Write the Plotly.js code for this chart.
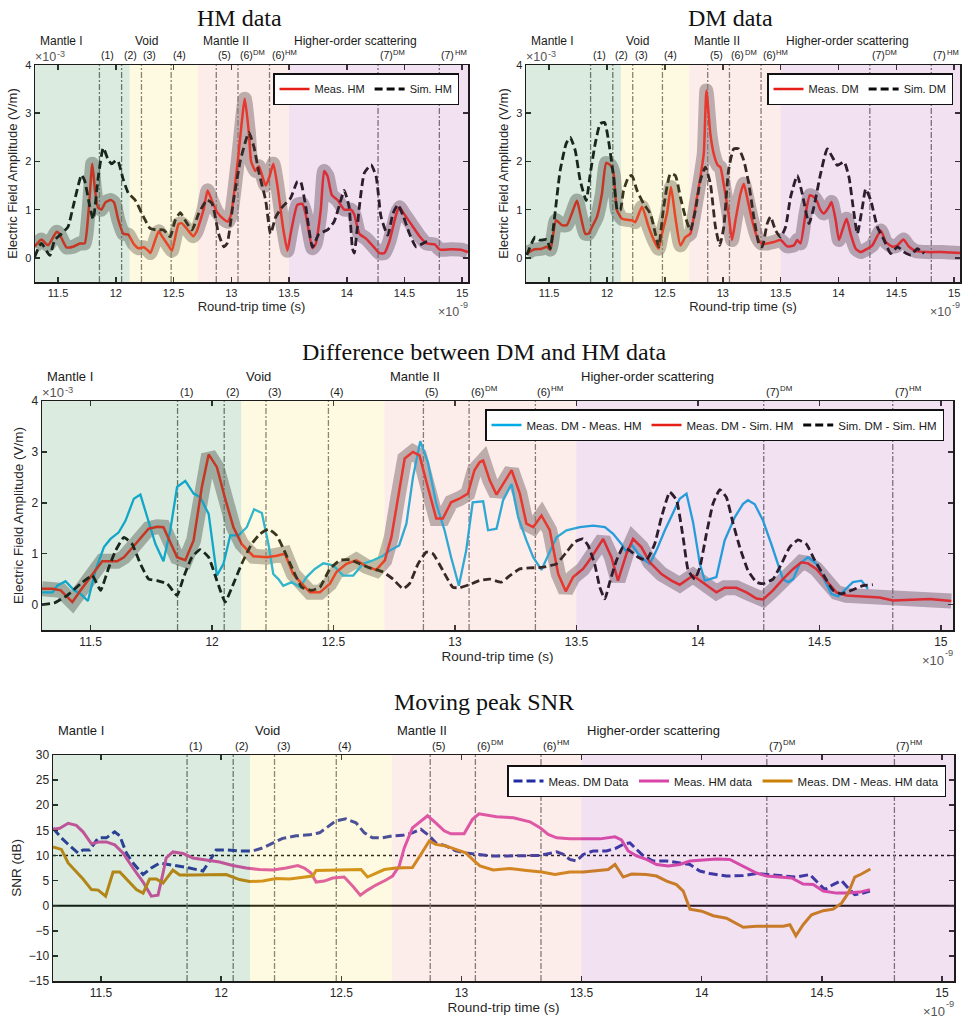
<!DOCTYPE html>
<html><head><meta charset="utf-8">
<script src="https://cdn.plot.ly/plotly-3.0.1.min.js"></script>
<style>html,body{margin:0;padding:0;background:#fff}#chart{width:965px;height:1021px}</style>
</head><body><div id="chart"></div>
<script>
// ---------------- DATA ----------------
const xTickVals = [11.5, 12, 12.5, 13, 13.5, 14, 14.5, 15];
const xTickText = ['11.5', '12', '12.5', '13', '13.5', '14', '14.5', '15'];
const ampTicks = [0, 1, 2, 3, 4];
const snrTicks = [30, 25, 20, 15, 10, 5, 0, -5, -10, -15];

const regionNames = ['Mantle I', 'Void', 'Mantle II', 'Higher-order scattering'];
const regionStart = [11.3, 12.12, 12.71, 13.5];
const regionEnd = [12.12, 12.71, 13.5, 15.05];

const eventLabels = ['(1)', '(2)', '(3)', '(4)', '(5)', '(6)', '(6)', '(7)', '(7)'];
const eventSups = ['', '', '', '', '', 'DM', 'HM', 'DM', 'HM'];
const eventTimes = [11.858, 12.05, 12.222, 12.479, 12.87, 13.058, 13.331, 14.271, 14.802];

// HM data (x1e-9 s, x1e-3 V/m)
const hmMeas = [[11.297,0.23],[11.355,0.38],[11.413,0.26],[11.486,0.54],[11.51,0.5],[11.572,0.22],[11.63,0.23],[11.688,0.3],[11.73,0.3],[11.765,1.0],[11.796,1.95],[11.82,1.4],[11.845,1.05],[11.875,1.0],[11.91,1.15],[11.955,1.2],[11.985,1.15],[12.02,0.8],[12.065,0.5],[12.109,0.48],[12.152,0.3],[12.196,0.2],[12.24,0.22],[12.28,0.15],[12.30,0.1],[12.37,0.55],[12.40,0.45],[12.47,0.2],[12.486,0.15],[12.543,0.7],[12.57,0.72],[12.616,0.6],[12.67,0.45],[12.70,0.55],[12.76,1.0],[12.795,1.4],[12.83,1.2],[12.877,0.95],[12.935,0.8],[12.97,0.75],[12.998,0.9],[13.056,2.0],[13.117,3.3],[13.152,2.6],[13.172,2.0],[13.21,1.8],[13.239,1.9],[13.297,1.5],[13.326,1.65],[13.364,1.95],[13.399,1.5],[13.45,0.6],[13.486,0.15],[13.514,0.5],[13.572,1.1],[13.616,1.12],[13.645,0.9],[13.703,0.2],[13.732,0.3],[13.775,1.0],[13.804,1.8],[13.833,1.7],[13.871,1.3],[13.92,1.2],[13.978,1.0],[14.036,1.0],[14.065,0.9],[14.109,0.5],[14.167,0.4],[14.225,0.25],[14.283,0.1],[14.326,0.1],[14.37,0.35],[14.428,0.9],[14.457,1.05],[14.5,0.9],[14.558,0.7],[14.63,0.45],[14.69,0.3],[14.762,0.28],[14.806,0.17],[14.905,0.18],[14.99,0.17],[15.05,0.12]];
const hmSim = [[11.297,0.02],[11.355,0.3],[11.428,0.05],[11.47,0.37],[11.53,0.5],[11.587,0.65],[11.63,1.06],[11.703,1.72],[11.73,1.6],[11.775,1.06],[11.804,0.8],[11.848,1.68],[11.891,2.28],[11.935,2.03],[11.965,1.95],[12.0,2.02],[12.02,2.0],[12.065,1.62],[12.109,1.34],[12.167,1.2],[12.24,0.85],[12.297,0.61],[12.355,0.58],[12.413,0.58],[12.47,0.44],[12.514,0.78],[12.558,0.94],[12.6,0.78],[12.66,0.58],[12.717,0.92],[12.79,1.2],[12.833,1.13],[12.89,0.5],[12.935,0.23],[12.964,0.3],[13.02,1.2],[13.08,2.03],[13.152,2.6],[13.196,2.3],[13.24,1.76],[13.297,1.2],[13.34,0.5],[13.385,0.85],[13.443,1.06],[13.514,1.24],[13.572,1.58],[13.6,1.58],[13.645,1.06],[13.703,0.23],[13.76,0.5],[13.833,0.58],[13.89,0.75],[13.949,1.2],[13.978,1.4],[14.02,1.06],[14.05,0.19],[14.065,0.1],[14.109,1.06],[14.152,1.76],[14.21,1.93],[14.254,1.69],[14.297,0.85],[14.355,0.47],[14.4,0.92],[14.442,1.1],[14.486,0.89],[14.543,0.5],[14.601,0.23],[14.659,0.3],[14.717,0.37]];

// DM data
const dmMeas = [[11.307,0.09],[11.364,0.17],[11.437,0.19],[11.48,0.23],[11.509,0.17],[11.523,0.3],[11.56,0.78],[11.61,0.68],[11.653,0.68],[11.696,0.92],[11.74,1.19],[11.768,0.92],[11.812,0.5],[11.84,0.5],[11.87,0.64],[11.913,0.85],[11.956,1.33],[11.993,1.97],[12.03,1.92],[12.057,1.74],[12.086,0.99],[12.129,0.81],[12.172,0.79],[12.215,0.78],[12.244,0.74],[12.302,1.06],[12.36,0.64],[12.418,0.3],[12.446,0.19],[12.475,0.5],[12.518,0.92],[12.553,1.47],[12.59,0.85],[12.634,0.26],[12.677,0.43],[12.72,0.5],[12.764,1.06],[12.807,1.68],[12.836,2.16],[12.859,3.47],[12.893,2.57],[12.922,2.16],[12.957,1.92],[12.98,1.88],[13.017,1.4],[13.05,0.92],[13.08,0.37],[13.11,0.78],[13.153,1.33],[13.182,1.54],[13.21,1.26],[13.254,0.78],[13.297,0.43],[13.335,0.3],[13.384,0.3],[13.442,0.33],[13.5,0.37],[13.557,0.24],[13.615,0.26],[13.644,0.37],[13.672,0.3],[13.716,0.92],[13.753,1.3],[13.788,1.26],[13.817,1.16],[13.845,0.99],[13.874,0.92],[13.918,1.06],[13.94,1.16],[13.976,0.78],[14.004,0.37],[14.033,0.57],[14.07,0.81],[14.105,0.5],[14.149,0.19],[14.192,0.12],[14.25,0.19],[14.293,0.26],[14.365,0.57],[14.409,0.33],[14.467,0.23],[14.51,0.26],[14.561,0.38],[14.61,0.23],[14.668,0.14],[14.769,0.12],[14.884,0.12],[14.97,0.11],[15.05,0.1]];
const dmSim = [[11.307,0.06],[11.379,0.43],[11.42,0.37],[11.48,0.38],[11.509,0.19],[11.537,0.64],[11.595,1.81],[11.647,2.37],[11.682,2.5],[11.725,2.23],[11.768,1.61],[11.82,1.19],[11.855,1.74],[11.898,2.37],[11.941,2.78],[11.979,2.81],[12.013,2.43],[12.057,1.68],[12.09,0.99],[12.115,0.99],[12.143,1.4],[12.187,1.68],[12.215,1.71],[12.259,1.4],[12.317,1.12],[12.374,0.92],[12.418,0.5],[12.446,0.23],[12.49,1.06],[12.547,1.74],[12.59,1.71],[12.634,1.26],[12.677,0.85],[12.72,0.57],[12.764,0.99],[12.807,1.61],[12.85,1.88],[12.893,1.54],[12.937,0.64],[12.974,0.26],[13.009,0.64],[13.05,1.81],[13.095,2.26],[13.139,2.26],[13.182,2.02],[13.225,1.54],[13.268,0.85],[13.312,0.3],[13.341,0.23],[13.384,0.71],[13.413,0.85],[13.456,0.57],[13.5,0.43],[13.543,0.64],[13.586,1.26],[13.644,1.71],[13.687,1.33],[13.745,0.71],[13.788,1.06],[13.845,1.74],[13.903,2.26],[13.947,2.09],[13.99,1.92],[14.048,1.99],[14.09,1.68],[14.134,0.92],[14.163,0.5],[14.207,1.06],[14.235,1.43],[14.279,1.19],[14.336,0.64],[14.394,0.37],[14.452,0.09],[14.51,0.23],[14.567,0.12],[14.625,0.06],[14.682,0.19],[14.74,0.09]];

// Difference between DM and HM data
const diffMeasMeas = [[11.30,0.24],[11.343,0.24],[11.363,0.37],[11.397,0.46],[11.432,0.28],[11.459,0.21],[11.489,0.07],[11.52,0.67],[11.555,1.13],[11.582,1.29],[11.616,1.42],[11.644,1.65],[11.678,2.08],[11.705,2.16],[11.733,1.72],[11.767,1.19],[11.80,0.85],[11.828,1.46],[11.856,2.31],[11.89,2.43],[11.924,2.18],[11.951,2.11],[11.986,1.78],[12.02,0.57],[12.047,0.8],[12.075,1.36],[12.109,1.36],[12.143,1.52],[12.173,1.87],[12.205,1.8],[12.232,1.19],[12.252,0.6],[12.273,0.5],[12.293,0.37],[12.328,0.44],[12.362,0.34],[12.389,0.54],[12.423,0.7],[12.458,0.81],[12.499,0.77],[12.54,0.57],[12.581,0.57],[12.622,0.8],[12.663,0.87],[12.704,0.96],[12.731,1.06],[12.77,1.16],[12.80,1.59],[12.827,2.5],[12.857,3.21],[12.888,2.8],[12.923,1.98],[12.957,1.46],[12.984,0.93],[13.016,0.37],[13.046,1.06],[13.073,2.01],[13.1,2.03],[13.116,2.03],[13.136,1.46],[13.171,1.49],[13.198,2.05],[13.233,2.37],[13.26,1.72],[13.294,1.26],[13.322,0.93],[13.356,0.68],[13.377,0.9],[13.418,1.32],[13.459,1.46],[13.514,1.52],[13.569,1.55],[13.617,1.52],[13.651,1.39],[13.685,1.19],[13.706,1.03],[13.726,1.19],[13.754,1.0],[13.781,0.87],[13.802,0.8],[13.829,1.06],[13.864,1.46],[13.898,1.82],[13.925,2.08],[13.953,2.18],[13.98,1.62],[14.008,0.8],[14.028,0.47],[14.049,0.5],[14.076,0.54],[14.11,1.26],[14.152,1.72],[14.186,1.98],[14.206,2.05],[14.234,1.97],[14.268,1.65],[14.302,1.19],[14.33,0.8],[14.35,0.5],[14.371,0.44],[14.392,0.5],[14.419,0.8],[14.453,0.93],[14.488,0.8],[14.515,0.54],[14.549,0.21],[14.577,0.16],[14.604,0.28],[14.638,0.44],[14.673,0.47],[14.7,0.31]];
const diffMeasSim = [[11.30,0.31],[11.343,0.31],[11.377,0.28],[11.425,0.05],[11.459,0.28],[11.5,0.54],[11.548,0.85],[11.609,0.85],[11.637,0.93],[11.685,1.19],[11.739,1.49],[11.774,1.53],[11.80,1.52],[11.856,0.93],[11.89,0.87],[11.924,1.26],[11.958,2.31],[11.986,2.95],[12.02,2.7],[12.054,2.08],[12.088,1.52],[12.122,1.19],[12.17,0.95],[12.225,0.93],[12.266,0.96],[12.30,1.0],[12.334,0.6],[12.369,0.41],[12.403,0.24],[12.444,0.24],[12.485,0.41],[12.512,0.64],[12.553,0.8],[12.594,0.87],[12.635,0.75],[12.676,0.68],[12.711,0.87],[12.738,1.32],[12.765,2.11],[12.793,2.87],[12.827,3.0],[12.854,2.93],[12.888,2.31],[12.923,1.69],[12.95,1.69],[12.984,2.01],[13.018,2.08],[13.053,2.18],[13.08,2.64],[13.102,2.8],[13.116,2.83],[13.143,2.44],[13.171,2.16],[13.198,2.36],[13.233,2.64],[13.267,2.18],[13.294,1.59],[13.322,1.52],[13.356,1.75],[13.39,1.46],[13.425,0.6],[13.456,0.26],[13.486,0.54],[13.527,0.7],[13.562,0.93],[13.61,1.29],[13.644,0.93],[13.671,0.47],[13.706,1.0],[13.733,1.29],[13.767,1.13],[13.802,0.83],[13.85,0.6],[13.891,0.47],[13.925,0.39],[13.98,0.57],[14.008,0.47],[14.049,0.34],[14.076,0.24],[14.11,0.33],[14.158,0.33],[14.2,0.24],[14.241,0.12],[14.268,0.1],[14.309,0.28],[14.35,0.5],[14.392,0.7],[14.426,0.83],[14.453,0.81],[14.487,0.7],[14.528,0.47],[14.57,0.24],[14.611,0.18],[14.68,0.16],[14.748,0.14],[14.803,0.08],[14.885,0.09],[14.954,0.11],[15.043,0.07]];
const diffSimSim = [[11.30,0.0],[11.35,0.03],[11.404,0.18],[11.459,0.41],[11.507,0.57],[11.541,0.28],[11.575,0.73],[11.603,1.06],[11.637,1.32],[11.671,1.19],[11.705,0.8],[11.739,0.5],[11.774,0.47],[11.815,0.41],[11.856,0.18],[11.883,0.54],[11.917,0.93],[11.951,1.08],[11.986,0.93],[12.02,0.47],[12.054,0.05],[12.088,0.41],[12.122,0.8],[12.163,1.19],[12.198,1.39],[12.232,1.48],[12.266,1.36],[12.30,1.03],[12.334,0.67],[12.369,0.34],[12.41,0.28],[12.444,0.34],[12.485,0.7],[12.526,0.87],[12.567,0.88],[12.608,0.8],[12.649,0.72],[12.704,0.64],[12.745,0.5],[12.786,0.31],[12.813,0.41],[12.848,0.8],[12.882,1.03],[12.909,1.0],[12.95,0.67],[12.991,0.34],[13.018,0.33],[13.059,0.39],[13.1,0.47],[13.143,0.5],[13.191,0.44],[13.226,0.57],[13.267,0.7],[13.308,0.72],[13.356,0.73],[13.418,0.8],[13.459,1.03],[13.493,1.23],[13.527,1.29],[13.548,1.16],[13.575,0.8],[13.596,0.34],[13.617,0.11],[13.637,0.44],[13.665,0.87],[13.692,1.13],[13.72,1.06],[13.754,0.93],[13.788,0.87],[13.822,1.19],[13.85,1.72],[13.884,2.21],[13.912,2.05],[13.939,1.32],[13.96,0.67],[13.987,0.5],[14.008,0.73],[14.035,1.39],[14.062,1.98],[14.09,2.26],[14.117,2.11],[14.145,1.59],[14.172,1.13],[14.206,0.67],[14.241,0.44],[14.268,0.41],[14.309,0.5],[14.344,0.8],[14.378,1.13],[14.412,1.27],[14.446,1.19],[14.481,0.87],[14.522,0.54],[14.556,0.28],[14.59,0.21],[14.632,0.28],[14.68,0.37],[14.72,0.39]];

// Moving peak SNR (dB)
const snrDM = [[11.30,15.4],[11.335,13.5],[11.37,11.9],[11.404,10.5],[11.425,11.1],[11.453,11.1],[11.488,13.5],[11.522,13.5],[11.557,14.7],[11.578,13.9],[11.605,10.5],[11.633,8.5],[11.675,6.2],[11.709,7.5],[11.744,8.5],[11.785,8.2],[11.827,7.9],[11.868,7.5],[11.924,6.9],[11.952,8.9],[11.979,11.1],[12.021,11.1],[12.076,10.9],[12.132,10.9],[12.173,11.5],[12.215,12.5],[12.256,13.4],[12.312,13.9],[12.367,14.1],[12.409,14.5],[12.45,15.9],[12.478,16.9],[12.519,17.3],[12.561,16.5],[12.596,14.5],[12.63,13.5],[12.672,13.5],[12.713,13.9],[12.755,14.0],[12.796,14.5],[12.831,15.2],[12.866,13.9],[12.893,12.5],[12.935,11.9],[12.976,10.9],[13.018,10.5],[13.073,10.2],[13.119,9.9],[13.188,9.9],[13.257,10.0],[13.327,10.0],[13.396,10.7],[13.424,10.2],[13.451,9.2],[13.479,8.9],[13.507,10.2],[13.549,10.9],[13.604,10.9],[13.646,11.5],[13.673,12.2],[13.701,12.5],[13.729,11.2],[13.757,9.9],[13.798,8.9],[13.854,8.9],[13.909,8.5],[13.951,8.2],[13.992,6.9],[14.034,6.4],[14.103,5.9],[14.173,6.0],[14.228,6.4],[14.284,6.2],[14.339,5.9],[14.395,5.7],[14.45,6.2],[14.478,4.9],[14.512,3.2],[14.547,4.2],[14.582,5.0],[14.61,3.5],[14.637,2.2],[14.672,2.5],[14.7,2.9]];
const snrHM = [[11.30,15.2],[11.328,15.4],[11.363,16.4],[11.397,16.0],[11.425,14.7],[11.46,12.3],[11.494,12.7],[11.522,12.7],[11.557,12.1],[11.591,10.5],[11.633,7.5],[11.675,4.7],[11.709,1.9],[11.737,2.1],[11.758,6.5],[11.771,9.5],[11.799,10.7],[11.841,10.4],[11.882,9.5],[11.938,9.1],[11.993,8.7],[12.048,8.0],[12.104,7.5],[12.159,7.2],[12.215,7.1],[12.27,7.5],[12.319,8.0],[12.346,7.5],[12.374,6.5],[12.395,4.7],[12.429,4.9],[12.464,5.5],[12.512,5.7],[12.547,3.9],[12.579,2.1],[12.609,3.1],[12.644,4.1],[12.686,5.1],[12.713,5.9],[12.741,7.9],[12.762,11.5],[12.796,15.5],[12.831,16.9],[12.859,17.9],[12.893,16.5],[12.928,14.9],[12.956,14.3],[13.011,14.3],[13.046,17.2],[13.073,18.3],[13.146,17.7],[13.216,17.5],[13.285,16.7],[13.327,15.5],[13.361,14.2],[13.396,13.5],[13.451,13.3],[13.507,13.3],[13.576,13.3],[13.639,13.7],[13.666,13.1],[13.694,10.9],[13.729,9.9],[13.77,9.2],[13.812,8.2],[13.861,7.9],[13.909,8.2],[13.951,8.9],[14.006,9.1],[14.062,9.3],[14.117,9.2],[14.173,7.9],[14.228,6.5],[14.27,5.9],[14.325,5.7],[14.374,5.5],[14.422,4.3],[14.464,4.2],[14.506,2.9],[14.561,2.5],[14.603,2.5],[14.658,2.7],[14.7,3.2]];
const snrDiff = [[11.30,11.7],[11.335,11.2],[11.363,8.5],[11.397,6.7],[11.425,5.3],[11.46,3.2],[11.488,3.1],[11.519,1.9],[11.55,6.7],[11.578,6.7],[11.612,4.9],[11.647,3.2],[11.675,2.5],[11.702,5.3],[11.73,5.3],[11.758,4.5],[11.799,7.1],[11.827,6.1],[11.882,6.1],[11.938,6.1],[12.021,6.2],[12.076,5.2],[12.118,4.8],[12.173,4.9],[12.229,5.4],[12.284,5.3],[12.339,5.7],[12.381,5.9],[12.395,7.0],[12.464,7.1],[12.533,7.2],[12.582,7.2],[12.609,5.7],[12.644,6.5],[12.679,7.2],[12.727,7.5],[12.796,7.6],[12.831,10.2],[12.866,12.9],[12.893,12.2],[12.935,11.9],[12.976,11.2],[13.018,10.5],[13.053,8.9],[13.077,7.9],[13.132,7.1],[13.202,7.4],[13.271,7.0],[13.334,6.7],[13.389,6.2],[13.451,6.7],[13.507,6.7],[13.562,7.0],[13.611,7.2],[13.639,8.2],[13.673,5.7],[13.708,6.3],[13.77,6.2],[13.812,5.9],[13.854,4.9],[13.895,4.2],[13.923,2.9],[13.951,-0.7],[14.0,-1.1],[14.048,-2.0],[14.103,-2.5],[14.173,-4.3],[14.228,-4.1],[14.284,-4.1],[14.339,-4.1],[14.367,-3.8],[14.392,-6.0],[14.422,-3.8],[14.457,-1.8],[14.506,-1.0],[14.547,-0.7],[14.582,0.5],[14.61,2.5],[14.637,5.7],[14.665,6.3],[14.702,7.3]];
const snrRefLines = [0, 10];

// ---------------- STYLE / LAYOUT ----------------
const SANS = 'Liberation Sans, Arial, Helvetica, sans-serif';
const SERIF = 'Liberation Serif, Times New Roman, serif';
const W = 965, H = 1021;
const xRange = [11.3, 15.05];
const regionTint = ['rgb(80,155,95)', 'rgb(250,230,110)', 'rgb(240,160,150)', 'rgb(190,105,180)'];
const RED = 'rgb(228,30,20)', BAND = 'rgb(178,175,178)', BLACK = 'rgb(10,10,10)';
const AX = '#1c1c1c';

const px = v => v / W;
const py = v => 1 - v / H;

const measCanvas = document.createElement('canvas').getContext('2d');
function textWidth(txt, size) {
  measCanvas.font = size + 'px "Liberation Sans", Arial, sans-serif';
  return measCanvas.measureText(txt).width;
}

const panels = [
  {n: '', box: [35, 468, 65, 282], yRange: [-0.5, 4], yTicks: ampTicks, tick: 11, lab: 12, num: 10.5, ttl: 13, mul: 12.5, ytitle: 'Electric Field Amplitude (V/m)',
   title: 'HM data', titleXY: [239, 18], mult: true, legBox: [459, 73], leg: 11, regShift: 15, numShift: 3},
  {n: '2', box: [526, 960, 65, 282], yRange: [-0.5, 4], yTicks: ampTicks, tick: 11, lab: 12, num: 10.5, ttl: 13, mul: 12.5, ytitle: 'Electric Field Amplitude (V/m)',
   title: 'DM data', titleXY: [730, 18], mult: true, legBox: [953, 73], leg: 11, regShift: 15, numShift: 3},
  {n: '3', box: [42, 953, 401, 630], yRange: [-0.5, 4], yTicks: ampTicks, tick: 12, lab: 13, num: 11, ttl: 13.5, mul: 13, ytitle: 'Electric Field Amplitude (V/m)',
   title: 'Difference between DM and HM data', titleXY: [484, 352], mult: true, legBox: [944, 409], leg: 11.5, regShift: 15, numShift: 2},
  {n: '4', box: [53, 954, 755, 981], yRange: [-15, 30], yTicks: snrTicks, tick: 12, lab: 13, num: 11, ttl: 13.5, mul: 13, ytitle: 'SNR (dB)',
   title: 'Moving peak SNR', titleXY: [484, 702], mult: false, legBox: [946, 765], leg: 11.5, regShift: 15, numShift: 2}
];

const xs = d => d.map(p => p[0]);
const ys = d => d.map(p => p[1]);

const traces = [];
const shapes = [];
const annotations = [];
const layout = {
  width: W, height: H, margin: {l: 0, r: 0, t: 0, b: 0},
  paper_bgcolor: '#fff', plot_bgcolor: '#fff', showlegend: true,
  font: {family: SANS, color: '#262626'}
};

function line(p, data, name, color, width, dash, opts) {
  const t = Object.assign({
    type: 'scatter', mode: 'lines', x: xs(data), y: ys(data), name: name,
    xaxis: 'x' + p.n, yaxis: 'y' + p.n,
    line: {color: color, width: width, dash: dash || 'solid', shape: 'linear'},
    hoverinfo: 'skip', legend: 'legend' + p.n, showlegend: true
  }, opts || {});
  traces.push(t);
}

// text with a raised suffix, built from two plain annotations
function textWithSup(base, sup, size, color, pos) {
  const supSize = size * 0.72;
  const common = {showarrow: false, borderpad: 0, borderwidth: 0, xref: pos.xref, yref: pos.yref, x: pos.x, y: pos.y};
  const bw = textWidth(base, size), sw = textWidth(sup, supSize);
  if (pos.xanchor === 'left') {
    annotations.push(Object.assign({}, common, {text: base, xanchor: 'left', xshift: pos.xshift, yanchor: pos.yanchor, yshift: pos.yshift,
      font: {family: SANS, size: size, color: color}}));
    if (sup) annotations.push(Object.assign({}, common, {text: sup, xanchor: 'left', xshift: pos.xshift + bw + 0.5, yanchor: pos.yanchor,
      yshift: pos.yshift + size * 0.42, font: {family: SANS, size: supSize, color: color}}));
  } else {
    annotations.push(Object.assign({}, common, {text: base, xanchor: 'right', xshift: pos.xshift - sw - 0.5, yanchor: pos.yanchor, yshift: pos.yshift,
      font: {family: SANS, size: size, color: color}}));
    annotations.push(Object.assign({}, common, {text: sup, xanchor: 'right', xshift: pos.xshift, yanchor: pos.yanchor,
      yshift: pos.yshift + size * 0.42, font: {family: SANS, size: supSize, color: color}}));
  }
}

function decorate(p) {
  const xa = 'x' + p.n, ya = 'y' + p.n;
  const [l, r, t, b] = p.box;
  layout['xaxis' + p.n] = {
    domain: [px(l), px(r)], range: xRange, anchor: ya,
    tickmode: 'array', tickvals: xTickVals, ticktext: xTickText,
    ticks: 'inside', ticklen: 5, tickwidth: 1.5, tickcolor: AX,
    showline: true, linecolor: AX, linewidth: 1.5, mirror: 'allticks',
    showgrid: false, zeroline: false,
    tickfont: {family: SANS, size: p.tick, color: '#262626'},
    title: {text: 'Round-trip time (s)', font: {family: SANS, size: p.ttl, color: '#262626'}, standoff: 3}
  };
  layout['yaxis' + p.n] = {
    domain: [py(b), py(t)], range: p.yRange, anchor: xa,
    tickmode: 'array', tickvals: p.yTicks,
    ticks: 'inside', ticklen: 5, tickwidth: 1.5, tickcolor: AX,
    showline: true, linecolor: AX, linewidth: 1.5, mirror: 'allticks',
    showgrid: false, zeroline: false,
    tickfont: {family: SANS, size: p.tick, color: '#262626'},
    title: {text: p.ytitle, font: {family: SANS, size: p.ttl, color: '#262626'}, standoff: 4}
  };
  layout['legend' + p.n] = {
    x: px(p.legBox[0]), y: py(p.legBox[1]), xanchor: 'right', yanchor: 'top',
    orientation: 'h', bgcolor: '#fff', bordercolor: '#111', borderwidth: 1.5,
    font: {family: SANS, size: p.leg, color: '#1a1a1a'}, itemwidth: 30, tracegroupgap: 0
  };
  // event marker lines (dash-dot), drawn as a trace under the data lines
  traces.push({
    type: 'scatter', mode: 'lines', xaxis: xa, yaxis: ya, hoverinfo: 'skip', showlegend: false,
    x: eventTimes.flatMap(e => [e, e, null]),
    y: eventTimes.flatMap(() => [p.yRange[0], p.yRange[1], null]),
    line: {color: 'rgb(112,112,112)', width: 1.3, dash: '6px,2px,2px,2px'}
  });
  // region tints laid above everything in the plot area
  regionNames.forEach((nm, i) => {
    shapes.push({type: 'rect', xref: xa, yref: ya + ' domain', x0: regionStart[i], x1: regionEnd[i], y0: 0, y1: 1,
      fillcolor: regionTint[i], opacity: 0.2, line: {width: 0}, layer: 'above'});
    annotations.push({text: nm, x: regionStart[i], xref: xa, xanchor: 'left', xshift: 3,
      y: 1, yref: ya + ' domain', yanchor: 'bottom', yshift: p.regShift, showarrow: false,
      font: {family: SANS, size: p.lab, color: '#1a1a1a'}});
  });
  eventLabels.forEach((lb, i) => {
    textWithSup(lb, eventSups[i], p.num, '#1a1a1a',
      {x: eventTimes[i], xref: xa, xanchor: 'left', xshift: 2, y: 1, yref: ya + ' domain', yanchor: 'bottom', yshift: p.numShift + 1});
  });
  annotations.push({text: p.title, x: px(p.titleXY[0]), y: py(p.titleXY[1]), xref: 'paper', yref: 'paper',
    xanchor: 'center', yanchor: 'middle', showarrow: false, font: {family: SERIF, size: 24, color: '#111'}});
  if (p.mult) {
    textWithSup('×10', '-3', p.mul, '#555',
      {x: 0, xref: xa + ' domain', xanchor: 'left', xshift: 0, y: 1, yref: ya + ' domain', yanchor: 'bottom', yshift: 1});
  }
  textWithSup('×10', '-9', p.mul, '#555',
    {x: 1, xref: xa + ' domain', xanchor: 'right', xshift: 0, y: 0, yref: ya + ' domain', yanchor: 'top', yshift: -23});
}

const [pHM, pDM, pDiff, pSNR] = panels;

// HM panel
line(pHM, hmMeas, 'band', BAND, 14, 'solid', {showlegend: false, line: {color: BAND, width: 14, shape: 'spline', smoothing: 0.5}});
decorate(pHM);
line(pHM, hmMeas, 'Meas. HM', RED, 2.5, 'solid', {line: {color: RED, width: 2.5, shape: 'spline', smoothing: 0.5}});
line(pHM, hmSim, 'Sim. HM', BLACK, 2.8, '8px,4px', {line: {color: BLACK, width: 2.8, dash: '8px,4px', shape: 'spline', smoothing: 0.5}});

// DM panel
line(pDM, dmMeas, 'band', BAND, 14, 'solid', {showlegend: false, line: {color: BAND, width: 14, shape: 'spline', smoothing: 0.5}});
decorate(pDM);
line(pDM, dmMeas, 'Meas. DM', RED, 2.5, 'solid', {line: {color: RED, width: 2.5, shape: 'spline', smoothing: 0.5}});
line(pDM, dmSim, 'Sim. DM', BLACK, 2.8, '8px,4px', {line: {color: BLACK, width: 2.8, dash: '8px,4px', shape: 'spline', smoothing: 0.5}});

// Difference panel
line(pDiff, diffMeasSim, 'band', BAND, 15, 'solid', {showlegend: false});
decorate(pDiff);
line(pDiff, diffMeasMeas, 'Meas. DM - Meas. HM', 'rgb(0,170,228)', 2.3);
line(pDiff, diffMeasSim, 'Meas. DM - Sim. HM', RED, 2.5);
line(pDiff, diffSimSim, 'Sim. DM - Sim. HM', BLACK, 2.8, '8px,4px', {line: {color: BLACK, width: 2.8, dash: '8px,4px', shape: 'spline', smoothing: 0.4}});

// SNR panel
decorate(pSNR);
snrRefLines.forEach(v => {
  shapes.unshift({type: 'line', xref: 'x4 domain', yref: 'y4', x0: 0, x1: 1, y0: v, y1: v, layer: 'below',
    line: {color: '#000', width: v === 0 ? 2 : 1.6, dash: v === 0 ? 'solid' : 'dot'}});
});
line(pSNR, snrDM, 'Meas. DM Data', 'rgb(32,44,160)', 3, '9px,4px');
line(pSNR, snrHM, 'Meas. HM data', 'rgb(218,68,168)', 3);
line(pSNR, snrDiff, 'Meas. DM - Meas. HM data', 'rgb(203,128,6)', 3);

layout.shapes = shapes;
layout.annotations = annotations;

Plotly.newPlot('chart', traces, layout, {staticPlot: true, displayModeBar: false});
</script></body></html>
